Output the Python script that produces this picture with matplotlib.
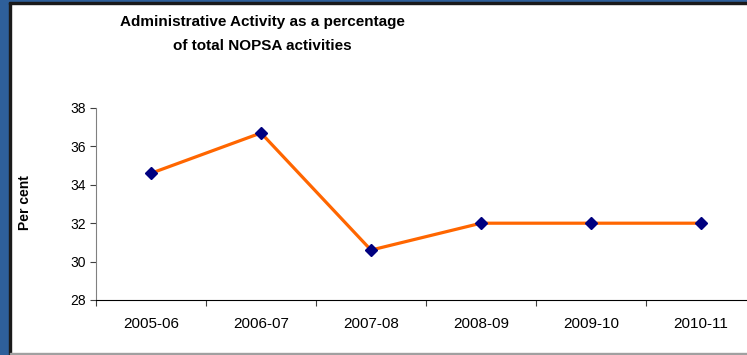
#!/usr/bin/env python3

"""Administrative activity as a percentage of total NOPSA activities."""

import matplotlib
matplotlib.use('Agg')
import matplotlib.pyplot as plt
from matplotlib.patches import Rectangle

YEARS = ['2005-06', '2006-07', '2007-08', '2008-09', '2009-10', '2010-11']
PERCENT = [34.6, 36.7, 30.6, 32.0, 32.0, 32.0]

W, H = 747, 355


def main():
    plt.rcParams['font.family'] = ['Liberation Sans', 'DejaVu Sans']
    fig = plt.figure(figsize=(W / 100, H / 100), dpi=100)

    # frame round the slide: blue band left, thin dark lines
    fig.patches.append(Rectangle((0, 0), 9 / W, 1, transform=fig.transFigure,
                                 color='#2e5f9a', zorder=0))
    fig.patches.append(Rectangle((9 / W, 0), 1.5 / W, 1, transform=fig.transFigure,
                                 color='#1a1a1a', zorder=0))
    fig.patches.append(Rectangle((0, 1 - 2 / H), 1, 2 / H, transform=fig.transFigure,
                                 color='#2e5f9a', zorder=0))
    fig.patches.append(Rectangle((9 / W, 1 - 3.5 / H), 1, 1.5 / H, transform=fig.transFigure,
                                 color='#1a1a1a', zorder=0))
    fig.patches.append(Rectangle((10 / W, 1.5 / H), 1, 1 / H, transform=fig.transFigure,
                                 color='#a0a0a0', zorder=0))

    # axes runs past the right edge, as in the original
    ax = fig.add_axes([96 / W, 55 / H, 660 / W, 192 / H])
    x = list(range(len(YEARS)))
    ax.plot(x, PERCENT, color='#ff6600', linewidth=2.3, zorder=2)
    ax.plot(x, PERCENT, linestyle='none', marker='D', markersize=6.2,
            color='#000080', zorder=3)

    ax.set_xlim(-0.5, len(YEARS) - 0.5)
    ax.set_ylim(28, 38)
    ax.set_yticks([28, 30, 32, 34, 36, 38])
    ax.set_xticks([i - 0.5 for i in range(len(YEARS) + 1)])
    ax.set_xticklabels([])
    ax.set_xticks(x, minor=True)
    ax.set_xticklabels(YEARS, minor=True, fontsize=11)
    ax.tick_params(axis='x', which='minor', length=0, pad=12)
    ax.tick_params(axis='x', which='major', length=4, direction='out',
                   color='#404040')
    ax.tick_params(axis='y', length=4, direction='out', color='#404040',
                   labelsize=10, pad=3)

    for side in ['top', 'right']:
        ax.spines[side].set_visible(False)
    ax.spines['left'].set_color('#808080')
    ax.spines['bottom'].set_color('#000000')

    fig.text(25 / W, 1 - 203 / H, 'Per cent', rotation=90, ha='center',
             va='center', fontsize=10, fontweight='bold')
    fig.text(262 / W, 1 - 34 / H,
             'Administrative Activity as a percentage\nof total NOPSA activities',
             ha='center', va='center', fontsize=11, fontweight='bold',
             linespacing=1.9)

    fig.savefig('out.png', dpi=100)


if __name__ == "__main__":
    main()
